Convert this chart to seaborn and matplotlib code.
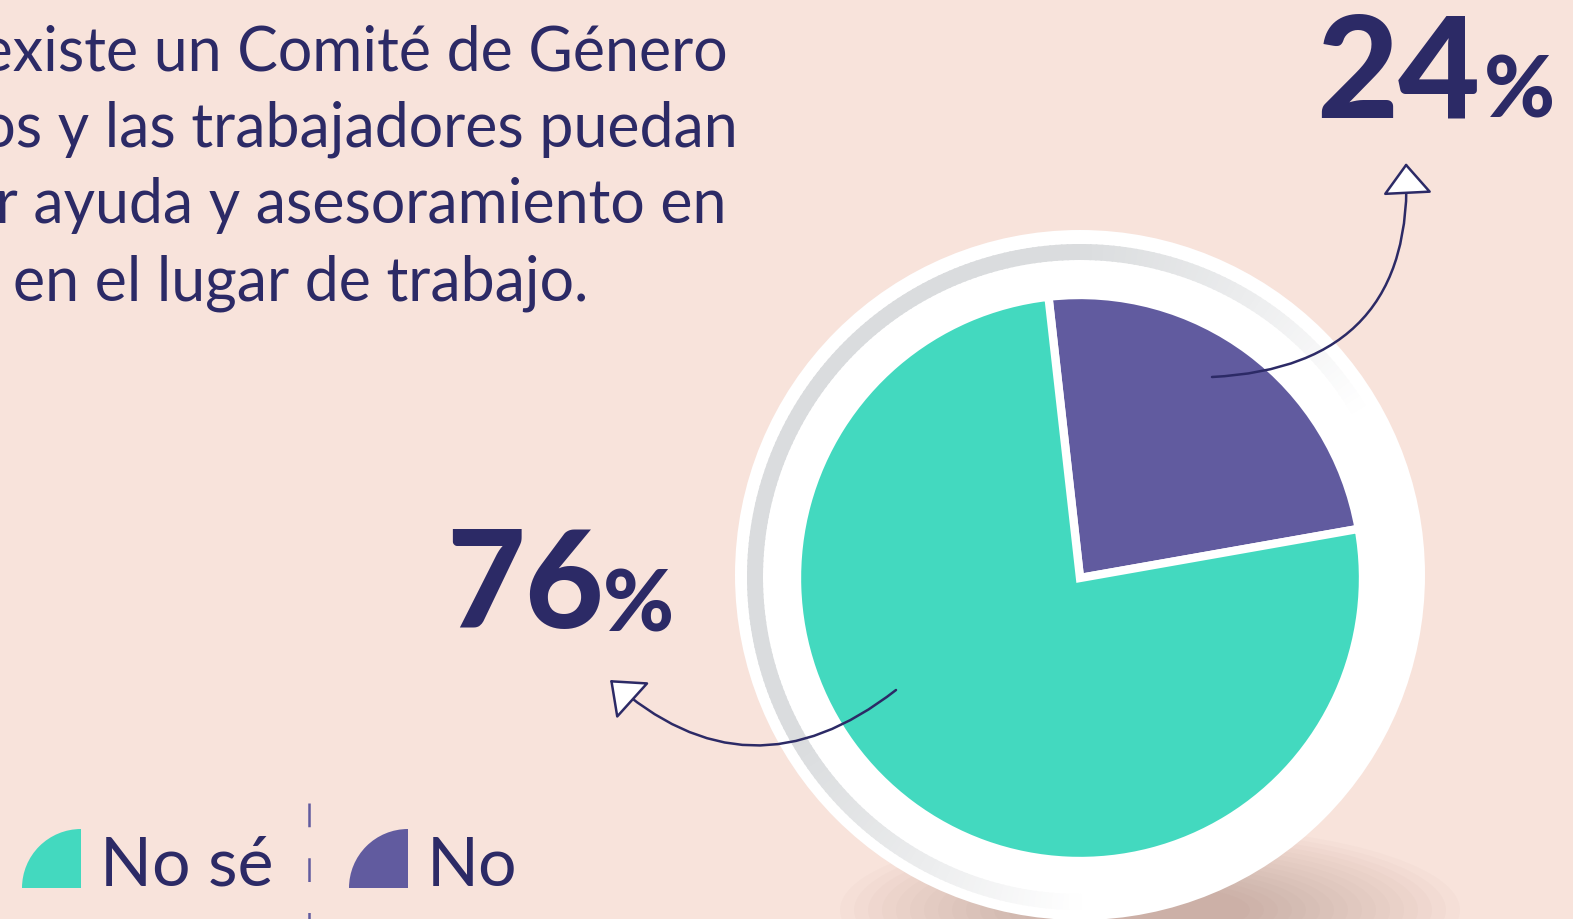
import numpy as np
import matplotlib
matplotlib.use("Agg")
import matplotlib.pyplot as plt
from matplotlib.patches import Circle, Wedge, Ellipse, FancyArrowPatch
import seaborn as sns

# datos
categorias = ["No", "No sé"]
porcentajes = [24, 76]
colores = ["#615B9F", "#43D9BF"]
leyenda = ["No sé", "No"]
titulo = ["que existe un Comité de Género",
          "los y las trabajadores puedan",
          "solicitar ayuda y asesoramiento en",
          "acoso en el lugar de trabajo."]

fondo = "#F8E3DB"
azul = "#2C2A66"

sns.set_theme(style="white")
plt.rcParams["font.family"] = ["Lato", "DejaVu Sans"]

W, H = 1573, 919
fig = plt.figure(figsize=(W / 100, H / 100), dpi=100, facecolor=fondo)
ax = fig.add_axes([0, 0, 1, 1])
ax.set_facecolor(fondo)


def Y(y):
    return H - y


rend = fig.canvas.get_renderer()


def ancho(t):
    return t.get_window_extent(rend).width


# sombra difusa bajo el circulo (mas marcada a la derecha)
for k in range(16):
    ax.add_patch(Ellipse((1150, Y(910)), 620 - k * 28, 170 - k * 8,
                         color="#8E6A5E", alpha=0.028, lw=0, zorder=1))

# circulo blanco y anillo gris
ax.add_patch(Circle((1080, Y(575)), 345, color="white", lw=0, zorder=2))
gris = np.array(matplotlib.colors.to_rgb("#DADCDE"))
for th in np.arange(0, 360, 1.0):
    d = (th - 150 + 180) % 360 - 180
    i = np.cos(np.pi / 2 * d / 120) if abs(d) < 120 else 0
    if i <= 0:
        continue
    c = 1 - (1 - gris) * min(1, i * 1.4)
    ax.add_patch(Wedge((1080, Y(577)), 333, th, th + 1.3, width=16,
                       color=c, lw=0, zorder=3))

# tarta
wedges, _ = ax.pie(porcentajes, colors=colores, startangle=10, counterclock=True,
                   center=(1080, Y(578)), radius=283,
                   wedgeprops=dict(edgecolor="white", linewidth=6), frame=True)
for w in wedges:
    w.set_zorder(4)

# flechas
flecha = "-|>,head_length=20,head_width=16"
ax.add_patch(FancyArrowPatch((1212, Y(377)), (1406, Y(163)),
                             connectionstyle="arc3,rad=0.5", arrowstyle=flecha,
                             lw=1.8, edgecolor=azul, facecolor="white",
                             shrinkA=0, shrinkB=0, zorder=6))
ax.add_patch(FancyArrowPatch((896, Y(690)), (610, Y(680)),
                             connectionstyle="arc3,rad=-0.42", arrowstyle=flecha,
                             lw=1.8, edgecolor=azul, facecolor="white",
                             shrinkA=0, shrinkB=0, zorder=6))

# porcentajes grandes
pos = {"No": (1316, 117, 1484, 118, 102, 62), "No sé": (446, 628, 603, 632, 98, 62)}
for cat, val in zip(categorias, porcentajes):
    x, yb, xp, yp, fs, fp = pos[cat]
    ax.text(x, Y(yb), str(val), fontsize=fs, fontweight="black", color=azul,
            ha="left", va="baseline", zorder=7)
    ax.text(xp, Y(yp), "%", fontsize=fp, fontweight="black", color=azul,
            ha="left", va="baseline", zorder=7)

# titulo (cortado a la izquierda como en el original)
prueba = ax.text(0, 0, "en el lugar de trabajo.", fontsize=40)
fs_tit = 40 * 576 / ancho(prueba)
prueba.remove()
derechas = [728, 738, 727, 588]
bases = [71, 147, 223, 300]
for linea, xr, yb in zip(titulo, derechas, bases):
    ax.text(xr, Y(yb), linea, fontsize=fs_tit, color=azul, ha="right",
            va="baseline", zorder=7)

# leyenda
for x0, lab, col in zip([81, 408], leyenda, colores[::-1]):
    ax.add_patch(Wedge((x0, Y(888)), 59, 90, 180, color=col, lw=0, zorder=7))
    ax.text(x0 + 19, Y(886), lab, fontsize=49, color=azul, ha="left",
            va="baseline", zorder=7)
ax.plot([309, 309], [Y(803), Y(935)], color="#615B9F", lw=1.8,
        linestyle=(0, (9.5, 12.4)), zorder=7)

ax.set_xlim(0, W)
ax.set_ylim(0, H)
ax.set_aspect("equal")
ax.axis("off")
fig.savefig("out.png", dpi=100, facecolor=fondo)
